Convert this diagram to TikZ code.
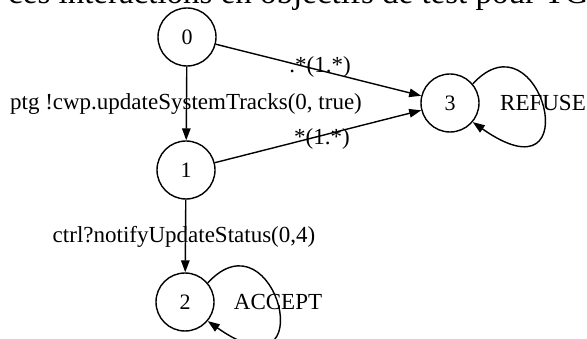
\documentclass[tikz,border=0pt]{standalone}
\usepackage{fontspec}
\setmainfont{Liberation Serif}
\usetikzlibrary{arrows.meta,calc}

\tikzset{
  state/.style={draw, circle, line width=1.4pt, minimum size=58pt, inner sep=0pt,
                font=\fontsize{22}{22}\selectfont},
  edge/.style={line width=1.4pt, -{Triangle[length=12pt,width=8.5pt]}},
  lbl/.style={inner sep=0pt, font=\fontsize{23}{23}\selectfont},
  heading/.style={inner sep=0pt, anchor=base west, font=\fontsize{33}{33}\selectfont}
}

\begin{document}
\begin{tikzpicture}[x=1pt,y=-1pt]
  \useasboundingbox (0,0) rectangle (587,339);
  \fill[white] (0,0) rectangle (587,339);
  \clip (0,0) rectangle (587,339);

  % running text line above the automaton
  \node[heading] (head) at (8,3.5) {ces interactions en objectifs de test pour TGV};

  % states
  \node[state] (n0) at (187,37)  {0};
  \node[state] (n1) at (186,170) {1};
  \node[state] (n2) at (185,302) {2};
  \node[state] (n3) at (450,103) {3};

  % transitions
  \draw[edge] (n0) -- (n1);
  \draw[edge] (n1) -- (n2);
  \draw[edge] (n0) -- (n3);
  \draw[edge] (n1) -- (n3);

  % self loops
  \draw[edge] (n3.40) .. controls ($(n3.40)+(68,-74)$) and ($(n3.-40)+(118,83)$) .. (n3.-40);
  \draw[edge] (n2.40) .. controls ($(n2.40)+(68,-74)$) and ($(n2.-40)+(118,83)$) .. (n2.-40);

  % transition labels
  \node[lbl] (l01) at (186,104) {ptg !cwp.updateSystemTracks(0, true)};
  \node[lbl] (l12) at (184,237) {ctrl?notifyUpdateStatus(0,4)};
  \node[lbl] (l03) at (320,67)  {.*(1.*)};
  \node[lbl] (l13) at (322,139) {*(1.*)};
  \node[lbl] (l33) at (543,103) {REFUSE};
  \node[lbl] (l22) at (278,302) {ACCEPT};
\end{tikzpicture}
\end{document}
